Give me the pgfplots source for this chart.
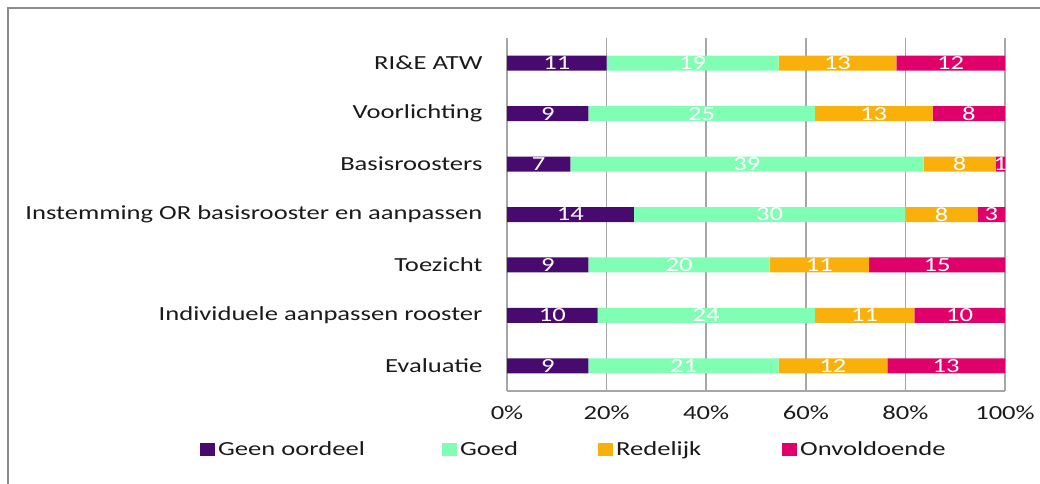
\documentclass[border=0pt]{standalone}
\usepackage{pgfplots}
\pgfplotsset{compat=1.18}
\usepackage{pgfplotstable}
\usepackage{fontspec}
\setmainfont[FakeStretch=1.33]{Carlito}
\definecolor{cGeen}{HTML}{480A6E}
\definecolor{cGoed}{HTML}{80FFB4}
\definecolor{cRed}{HTML}{FAB00A}
\definecolor{cOnv}{HTML}{E0006A}
\definecolor{framec}{HTML}{8C8C8C}
\definecolor{gridc}{HTML}{A6A6A6}
\definecolor{txt}{HTML}{1A1A1A}

\pgfplotstableread{
idx geen goed redelijk onv
0 11 19 13 12
1 9 25 13 8
2 7 39 8 1
3 14 30 8 3
4 9 20 11 15
5 10 24 11 10
6 9 21 12 13
}\datatable

\begin{document}
\begin{tikzpicture}[font=\fontsize{20bp}{24bp}\selectfont]
\useasboundingbox (0bp,0bp) rectangle (1040bp,484bp);
\draw[framec, line width=2bp] (8bp,-10bp) -- (8bp,476bp) -- (1060bp,476bp);
\begin{axis}[
  at={(507bp,93bp)}, anchor=south west,
  scale only axis, width=498bp, height=353bp,
  xbar stacked, bar width=15bp,
  legend image code/.code={\fill[#1, draw=none] (0bp,-6.5bp) rectangle (15bp,6.5bp);},
  xmin=0, xmax=55, ymin=-0.5, ymax=6.5, y dir=reverse,
  xtick={0,11,22,33,44,55},
  xticklabels={0\%,20\%,40\%,60\%,80\%,100\%},
  ytick={0,...,6},
  yticklabels={RI\&E ATW, Voorlichting, Basisroosters, Instemming OR basisrooster en aanpassen, Toezicht, Individuele aanpassen rooster, Evaluatie},
  axis x line*=bottom, axis y line*=left,
  axis line style={gridc, line width=1.5bp},
  xmajorgrids, major grid style={gridc, line width=1.5bp},
  major tick length=0pt,
  tick label style={text=txt},
  /pgf/number format/assume math mode=true,
  xticklabel style={yshift=-11bp},
  yticklabel style={xshift=-21bp},
  point meta=explicit symbolic,
  nodes near coords={\pgfplotspointmeta},
  every node near coord/.append style={text=white, anchor=center},
  legend columns=4,
  legend style={at={(-0.6165,-0.1657)}, anchor=west, draw=none, fill=none, inner sep=0pt,
    nodes={inner sep=0pt, anchor=west, text=txt}},
]
\addplot[fill=cGeen, draw=none] table[x=geen, y=idx, meta=geen] {\datatable};
\addlegendentry{\makebox[227bp][l]{\hspace{3bp}Geen oordeel}}
\addplot[fill=cGoed, draw=none] table[x=goed, y=idx, meta=goed] {\datatable};
\addlegendentry{\makebox[141bp][l]{\hspace{3bp}Goed}}
\addplot[fill=cRed, draw=none] table[x=redelijk, y=idx, meta=redelijk] {\datatable};
\addlegendentry{\makebox[169bp][l]{\hspace{3bp}Redelijk}}
\addplot[fill=cOnv, draw=none] table[x=onv, y=idx, meta=onv] {\datatable};
\addlegendentry{\hspace{3bp}Onvoldoende}
\end{axis}
\end{tikzpicture}
\end{document}
